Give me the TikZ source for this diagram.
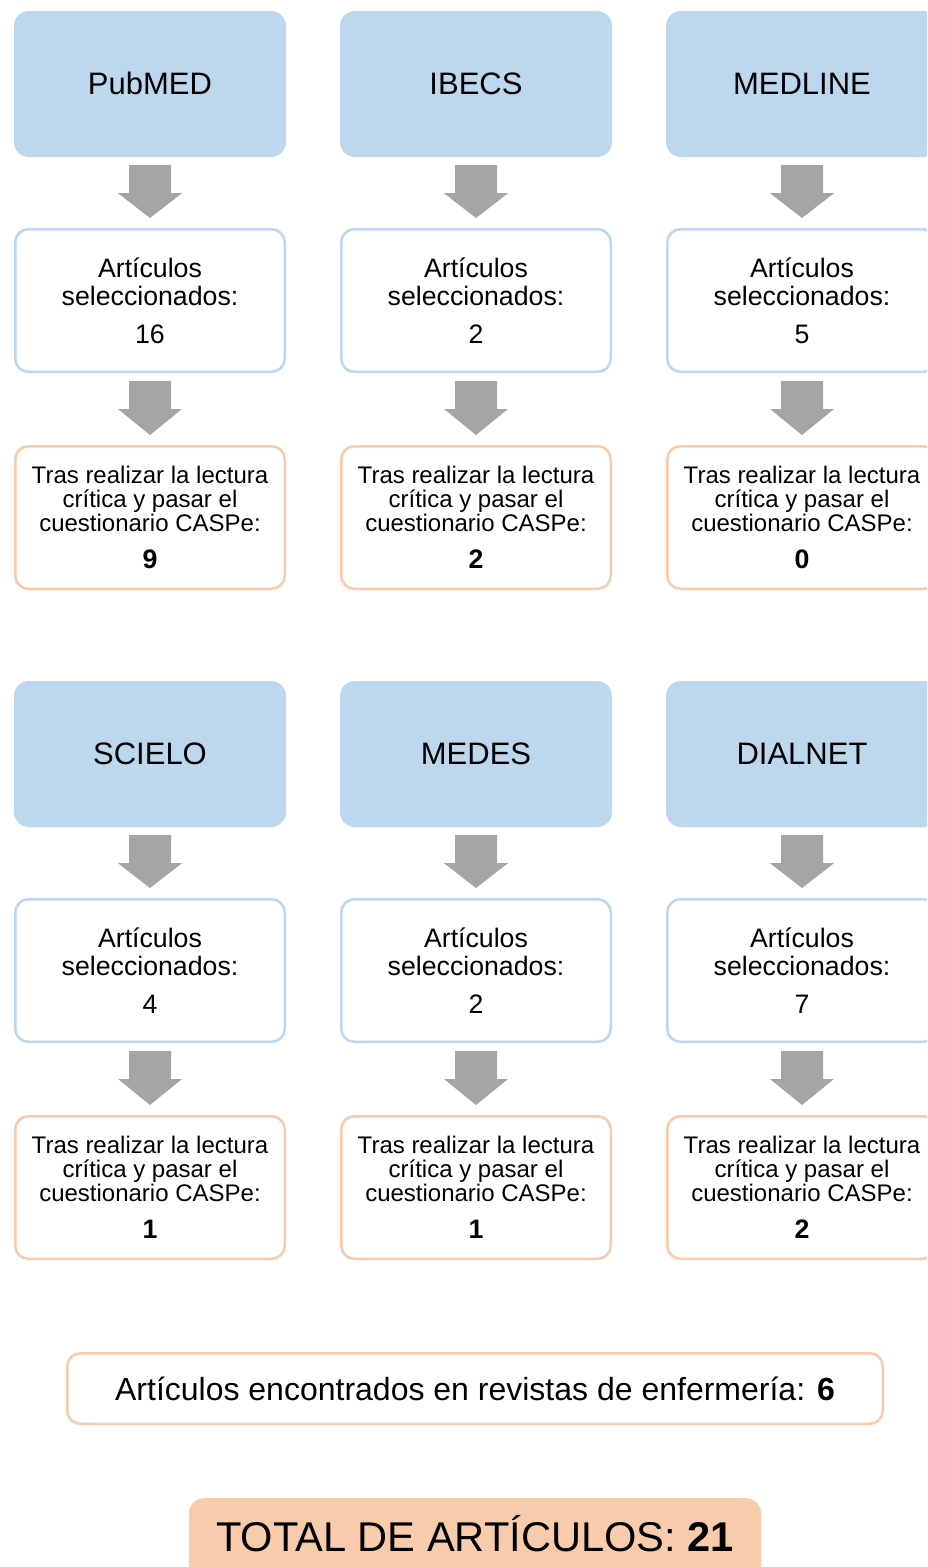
\documentclass[tikz,border=0pt]{standalone}
\usepackage{fontspec}
\setmainfont{Liberation Sans}
\usetikzlibrary{calc}
\definecolor{bluefill}{HTML}{BDD7EE}
\definecolor{orangec}{HTML}{F8CBAD}
\definecolor{arrowgray}{HTML}{A5A5A5}
\tikzset{
  dbbox/.style={rounded corners=15pt, fill=bluefill, minimum width=272pt, minimum height=146pt,
    inner sep=0pt, font=\fontsize{31}{34}\selectfont},
  selbox/.style={rounded corners=13pt, draw=bluefill, line width=2.5pt, fill=white,
    minimum width=269.5pt, minimum height=142.5pt, align=center, inner sep=0pt,
    font=\fontsize{26.7}{28}\selectfont},
  caspbox/.style={rounded corners=13pt, draw=orangec, line width=2.5pt, fill=white,
    minimum width=269.5pt, minimum height=142.5pt, align=center, inner sep=0pt,
    font=\fontsize{24}{24}\selectfont},
  encbox/.style={rounded corners=13pt, draw=orangec, line width=2.5pt, fill=white,
    minimum width=815.5pt, minimum height=70.5pt, inner sep=0pt,
    font=\fontsize{32}{34}\selectfont},
  totbox/.style={rounded corners=15pt, fill=orangec, minimum width=572pt, minimum height=110pt,
    inner sep=0pt},
  tottext/.style={inner sep=0pt, font=\fontsize{41.6}{44}\selectfont},
  blockarrow/.style={fill=arrowgray},
}
\newcommand{\barrow}[2]{%
  \fill[blockarrow] ($(#1.south)+(-21,8)$) -- ($(#1.south)+(21,8)$) -- ($(#1.south)+(21,36)$)
    -- ($(#1.south)+(32,36)$) -- ($(#2.north)+(0,-10)$) -- ($(#1.south)+(-32,36)$)
    -- ($(#1.south)+(-21,36)$) -- cycle;}
\newcommand{\seltext}[1]{Artículos\\ seleccionados:\\[10pt] #1}
\newcommand{\casptext}[1]{Tras realizar la lectura\\ crítica y pasar el\\ cuestionario CASPe:\\[13pt] {\fontsize{26.7}{28}\selectfont\bfseries #1}}
\begin{document}
\begin{tikzpicture}[x=1pt,y=-1pt]
\useasboundingbox (0,0) rectangle (927,1567);
\clip (0,0) rectangle (927,1567);
% Row 1
\node[dbbox] (db1) at (150,84) {\raisebox{1pt}{PubMED}};
\node[dbbox] (db2) at (476,84) {\raisebox{1pt}{IBECS}};
\node[dbbox] (db3) at (802,84) {\raisebox{1pt}{MEDLINE}};
\node[selbox] (s1) at (150,300.5) {\seltext{16}};
\node[selbox] (s2) at (476,300.5) {\seltext{2}};
\node[selbox] (s3) at (802,300.5) {\seltext{5}};
\node[caspbox] (c1) at (150,517.5) {\casptext{9}};
\node[caspbox] (c2) at (476,517.5) {\casptext{2}};
\node[caspbox] (c3) at (802,517.5) {\casptext{0}};
% Row 2
\node[dbbox] (db4) at (150,754) {\raisebox{1pt}{SCIELO}};
\node[dbbox] (db5) at (476,754) {\raisebox{1pt}{MEDES}};
\node[dbbox] (db6) at (802,754) {\raisebox{1pt}{DIALNET}};
\node[selbox] (s4) at (150,970.5) {\seltext{4}};
\node[selbox] (s5) at (476,970.5) {\seltext{2}};
\node[selbox] (s6) at (802,970.5) {\seltext{7}};
\node[caspbox] (c4) at (150,1187.5) {\casptext{1}};
\node[caspbox] (c5) at (476,1187.5) {\casptext{1}};
\node[caspbox] (c6) at (802,1187.5) {\casptext{2}};
% arrows
\foreach \i in {1,...,6}{\barrow{db\i}{s\i}\barrow{s\i}{c\i}}
% bottom
\node[encbox] (enc) at (475,1388.5) {Artículos encontrados en revistas de enfermería: \textbf{6}};
\node[totbox, anchor=north] (tot) at (475,1498) {};
\node[tottext] (tott) at (475,1534) {TOTAL DE ARTÍCULOS: \textbf{21}};
\end{tikzpicture}
\end{document}
